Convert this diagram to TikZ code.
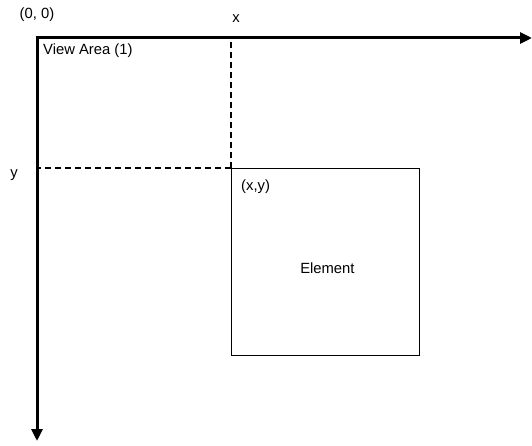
\documentclass[tikz,border=0pt]{standalone}
\usepackage{fontspec}
\setmainfont{Liberation Sans}
\usetikzlibrary{arrows.meta}
\begin{document}
\begin{tikzpicture}[x=1pt,y=-1pt,
  axis/.style={line width=3pt,-{Triangle[length=12pt,width=11pt]}},
  guide/.style={line width=1.6pt,dash pattern=on 6pt off 4pt},
  label/.style={inner sep=0pt,font=\fontsize{14.8}{17}\selectfont},
  elementbox/.style={draw,line width=0.8pt,minimum width=188pt,minimum height=187pt,inner sep=0pt,anchor=north west}]
  \useasboundingbox (0,0) rectangle (532,446);
  % axes of the view area
  \coordinate (origin) at (37,38);
  \coordinate (xend) at (532,38);
  \coordinate (yend) at (37,441);
  \draw[axis] ([xshift=-1.5pt]origin) -- (xend);
  \draw[axis] (origin) -- (yend);
  % element box placed at (x,y)
  \node[elementbox] (element) at (231,168) {};
  \coordinate (xmark) at (231,38);
  \coordinate (ymark) at (37,168);
  \draw[guide] (element.north west) -- (xmark);
  \draw[guide] (element.north west) -- (ymark);
  % labels
  \node[label] (zero) at (37,15) {(0, 0)};
  \node[label] (xlab) at (236,19) {x};
  \node[label] (ylab) at (14,175) {y};
  \node[label,anchor=west] (view) at (43,51) {View Area (1)};
  \node[label,anchor=west] (xy) at (241,187) {(x,y)};
  \node[label] (elabel) at ([shift={(2,6)}]element.center) {Element};
\end{tikzpicture}
\end{document}
